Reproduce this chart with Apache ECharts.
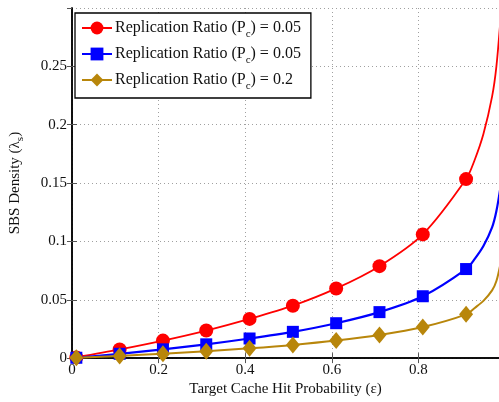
<!DOCTYPE html>
<html>
<head>
<meta charset="utf-8">
<script src="https://cdn.jsdelivr.net/npm/echarts@6/dist/echarts.min.js"></script>
<style>
  html, body { margin: 0; padding: 0; background: #fff; }
  #chart { width: 499px; height: 402px; }
</style>
</head>
<body>
<div id="chart"></div>
<script>
const markX = [0.01, 0.11, 0.21, 0.31, 0.41, 0.51, 0.61, 0.71, 0.81, 0.91];
const tailX = [0.93, 0.95, 0.97, 0.98, 0.99];

const redMark = [0.0006, 0.0074, 0.015, 0.0236, 0.0336, 0.0449, 0.0597, 0.0788, 0.106, 0.1534];
const redTail = [0.170, 0.192, 0.224, 0.250, 0.293];
const blueMark = [0.0003, 0.0037, 0.0075, 0.0118, 0.0168, 0.0225, 0.0299, 0.0394, 0.053, 0.0763];
const blueTail = [0.085, 0.096, 0.112, 0.126, 0.148];
const goldMark = [0.0002, 0.0019, 0.0038, 0.0059, 0.0084, 0.0113, 0.015, 0.0198, 0.0266, 0.0375];
const goldTail = [0.043, 0.049, 0.058, 0.066, 0.082];

const xTicks = [0, 0.2, 0.4, 0.6, 0.8];

const legendText = {
    r1: '{t|Replication Ratio (P}{s|c}{t|) = 0.05}',
    r2: '{t|Replication Ratio (P}{s|c}{t|) = 0.05}',
    r3: '{t|Replication Ratio (P}{s|c}{t|) = 0.2}'
};

const FONT = '"Liberation Serif", "DejaVu Serif", serif';

function buildData(mark, tail) {
    const pts = markX.map((x, i) => ({ value: [x, mark[i]] }));
    tailX.forEach((x, i) => pts.push({ value: [x, tail[i]], symbol: 'none' }));
    return pts;
}

const chart = echarts.init(document.getElementById('chart'));

const gridStyle = {
    show: true,
    lineStyle: { type: [1, 3], color: '#a0a0a0', width: 1 }
};

const option = {
    animation: false,
    backgroundColor: '#fff',
    grid: { left: 69, right: 0, top: 8, bottom: 39 },
    legend: {
        orient: 'vertical',
        left: 75,
        top: 13,
        padding: [7, 10, 6, 6],
        itemGap: 6,
        itemWidth: 30,
        itemHeight: 16,
        backgroundColor: '#fff',
        borderColor: '#000',
        borderWidth: 1.3,
        borderRadius: 0,
        data: ['r1', 'r2', 'r3'],
        formatter: name => legendText[name],
        textStyle: {
            padding: [0, 0, 0, -2],
            rich: {
                t: { fontFamily: FONT, fontSize: 16, color: '#111' },
                s: { fontFamily: FONT, fontSize: 11, color: '#111', padding: [13, 0, 0, 0] }
            }
        }
    },
    xAxis: [{
        type: 'value',
        min: 0,
        max: 0.986,
        interval: 0.2,
        name: 'Target Cache Hit Probability (\u03b5)',
        nameLocation: 'middle',
        nameGap: 23,
        nameTextStyle: { fontFamily: FONT, fontSize: 15, color: '#111' },
        axisLine: { lineStyle: { color: '#000', width: 1.5 } },
        axisTick: { inside: true, length: 5, lineStyle: { color: '#555' } },
        axisLabel: {
            showMaxLabel: false,
            fontFamily: FONT, fontSize: 15, color: '#111', margin: 4,
            formatter: v => xTicks.includes(Math.round(v * 10) / 10) ? String(v) : ''
        },
        splitLine: gridStyle
    }, {
        type: 'value',
        position: 'top',
        min: 0,
        max: 0.986,
        interval: 0.2,
        axisLine: { show: true, lineStyle: { color: '#000', width: 1.5 } },
        axisTick: { inside: true, length: 5, lineStyle: { color: '#555' } },
        axisLabel: { show: false },
        splitLine: { show: false }
    }],
    yAxis: [{
        type: 'value',
        min: 0,
        max: 0.3,
        interval: 0.05,
        name: 'SBS Density (\u03bb{sub|s})',
        nameLocation: 'middle',
        nameGap: 46,
        nameTextStyle: {
            fontFamily: FONT, fontSize: 15, color: '#111',
            rich: { sub: { fontFamily: FONT, fontSize: 11, color: '#111', padding: [10, 0, 0, 0] } }
        },
        axisLine: { show: true, lineStyle: { color: '#000', width: 1.5 } },
        axisTick: { show: true, inside: true, length: 5, lineStyle: { color: '#555' } },
        axisLabel: {
            showMaxLabel: false,
            fontFamily: FONT, fontSize: 15, color: '#111', margin: 5,
            formatter: v => String(Math.round(v * 100) / 100)
        },
        splitLine: gridStyle
    }, {
        type: 'value',
        position: 'right',
        min: 0,
        max: 0.3,
        interval: 0.05,
        axisLine: { show: true, lineStyle: { color: '#000', width: 1.5 } },
        axisTick: { show: true, inside: true, length: 5, lineStyle: { color: '#555' } },
        axisLabel: { show: false },
        splitLine: { show: false }
    }],
    series: [
        {
            name: 'r1',
            type: 'line',
            smooth: 0.3,
            symbol: 'circle',
            symbolSize: 14,
            color: '#ff0000',
            lineStyle: { width: 1.8 },
            data: buildData(redMark, redTail)
        },
        {
            name: 'r2',
            type: 'line',
            smooth: 0.3,
            symbol: 'rect',
            symbolSize: 12,
            color: '#0000ff',
            lineStyle: { width: 2.2 },
            data: buildData(blueMark, blueTail)
        },
        {
            name: 'r3',
            type: 'line',
            smooth: 0.3,
            symbol: 'diamond',
            symbolSize: [14, 17],
            color: '#b8860b',
            lineStyle: { width: 2 },
            data: buildData(goldMark, goldTail)
        }
    ]
};

chart.setOption(option);

window.addEventListener('resize', _ => {
    chart.resize();
});
</script>
</body>
</html>
